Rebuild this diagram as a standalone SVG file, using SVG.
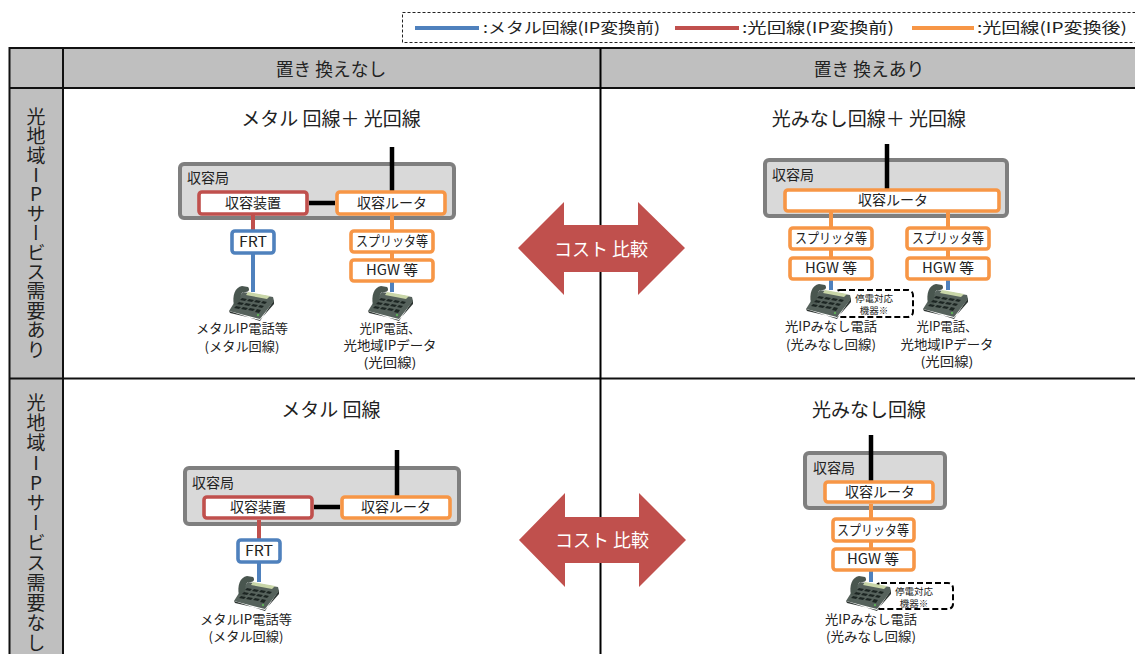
<svg xmlns="http://www.w3.org/2000/svg" width="1135" height="654" viewBox="0 0 1135 654">
<style>
text{font-family:"Noto Sans CJK JP","Noto Sans",sans-serif;fill:#222;text-anchor:middle}
.t{font-size:19px}
.h{font-size:17.800px}
.b{font-size:14px}
.l{font-size:12.800px}
.s{font-size:9.500px}
.st{font-size:14px;text-anchor:start}
.lg{font-size:15px;text-anchor:start}
.v{font-size:19px;writing-mode:vertical-rl;text-orientation:upright;text-anchor:start}
.ar{font-size:18px;fill:#fff}
.station{fill:#d9d9d9;stroke:#7f7f7f;stroke-width:4}
.or,.re,.bl{fill:#fff;stroke-width:3.600}
.or{stroke:#f79646}.re{stroke:#c0504d}.bl{stroke:#4f81bd}
.lk{stroke:#000;stroke-width:4.500;fill:none}
.lo{stroke:#f79646;stroke-width:4;fill:none}
.lr{stroke:#c0504d;stroke-width:4;fill:none}
.lb{stroke:#4f81bd;stroke-width:4;fill:none}
.arrow{fill:#c0504d}
.dash{fill:#fff;stroke:#000;stroke-width:2;stroke-dasharray:6 3}
.cell{fill:#bfbfbf}
.rule{stroke:#111;stroke-width:2;fill:none}
</style>
<defs>
<filter id="soft" x="-10%" y="-10%" width="120%" height="120%"><feGaussianBlur stdDeviation="0.35"/></filter>
<symbol id="phone" width="46" height="36" viewBox="0 0 46 36" overflow="visible">
<g filter="url(#soft)">
<polygon points="0,25 31,35 45,14 45,18 31,34 1,27" fill="#2e3532"/>
<polygon points="14,6 44,11 45,15 31,33 0,25 5,17" fill="#56625c"/>
<path d="M5,19 C3,10 6,1 13,0 L19,1 C21,3 20,6 17,6 L14,6 C11,8 11,14 11,20 Z" fill="#4a5650"/>
<polygon points="19,6 41,10 38,13 17,9" fill="#c9d6a8"/>
<g fill="#1f2624">
<polygon points="13,12 18,13 16,15 11,14"/><polygon points="20,13 25,14 23,16 18,15"/><polygon points="27,14 32,15 30,17 25,16"/><polygon points="34,15 38,16 36,18 32,17"/>
<polygon points="10,16 15,17 13,19 8,18"/><polygon points="17,17 22,18 20,20 15,19"/><polygon points="24,18 29,19 27,21 22,20"/><polygon points="31,19 35,20 33,22 29,21"/>
<polygon points="7,20 12,21 10,23 5,22"/><polygon points="14,21 19,22 17,24 12,23"/><polygon points="21,22 26,23 24,25 19,24"/><polygon points="28,23 32,24 30,27 26,26"/>
</g>
<circle cx="29" cy="29" r="1.200" fill="#5fae5a"/>
</g>
</symbol>
</defs>

<g id="legend">
<rect x="402.500" y="12.500" width="760" height="30" fill="none" stroke="#222" stroke-dasharray="3 2"/>
<line x1="415" y1="28" x2="479" y2="28" class="lb"/>
<text class="lg" x="483" y="33" textLength="177" lengthAdjust="spacingAndGlyphs">:メタル回線(IP変換前)</text>
<line x1="675" y1="28" x2="739" y2="28" class="lr"/>
<text class="lg" x="742" y="33" textLength="152" lengthAdjust="spacingAndGlyphs">:光回線(IP変換前)</text>
<line x1="912" y1="28" x2="974" y2="28" class="lo"/>
<text class="lg" x="977" y="33" textLength="150" lengthAdjust="spacingAndGlyphs">:光回線(IP変換後)</text>
</g>

<g id="table">
<rect class="cell" x="10" y="48" width="1125" height="40"/>
<rect class="cell" x="10" y="88" width="53" height="566"/>
<path class="rule" d="M9,48H1135M9,88H1135M9,378.500H1135M9.500,47V654M63,47V654"/>
<path d="M600.500,48V654" stroke="#000" stroke-width="2" fill="none"/>
<text class="h" x="331" y="76">置き 換えなし</text>
<text class="h" x="869" y="76">置き 換えあり</text>
<text class="v" x="36" y="107" style="letter-spacing:.4px">光地域IPサービス需要あり</text>
<text class="v" x="36" y="393" style="letter-spacing:1px">光地域IPサービス需要なし</text>
<text class="t" x="331" y="126">メタル 回線＋ 光回線</text>
<text class="t" x="869" y="126">光みなし回線＋ 光回線</text>
<text class="t" x="331" y="417">メタル 回線</text>
<text class="t" x="869" y="417">光みなし回線</text>
</g>

<g id="station-a"><rect class="station" x="180" y="164" width="274" height="54" rx="4"/><text class="st" x="187" y="183">収容局</text></g>
<g id="station-b"><rect class="station" x="765" y="160" width="242" height="56" rx="4"/><text class="st" x="772" y="180">収容局</text></g>
<g id="station-c"><rect class="station" x="185" y="468" width="274" height="56" rx="4"/><text class="st" x="192" y="488">収容局</text></g>
<g id="station-d"><rect class="station" x="805" y="453" width="140" height="55" rx="4"/><text class="st" x="813" y="473">収容局</text></g>

<g id="connectors">
<path class="lk" d="M392,147V191M309,203H335"/>
<path class="lr" d="M253,215V231"/><path class="lb" d="M253,253V292"/>
<path class="lo" d="M392,215V231M392,252V260"/><path class="lb" d="M392,282V292"/>
<path class="lk" d="M887,144V190"/>
<path class="lo" d="M831,212V228M831,249V258M948,212V228M948,249V258"/>
<path class="lb" d="M831,280V290M948,280V290"/>
<path class="lk" d="M397,450V497M314,507H340"/>
<path class="lr" d="M259,520V540"/><path class="lb" d="M259,562V582"/>
<path class="lk" d="M871,435V482"/>
<path class="lo" d="M871,504V519M871,541V549"/><path class="lb" d="M871,571V582"/>
</g>

<g id="device-a"><rect class="re" x="199" y="192" width="108" height="22" rx="3"/><text class="b" x="253" y="208">収容装置</text></g>
<g id="router-a"><rect class="or" x="337" y="192" width="108" height="22" rx="3"/><text class="b" x="392" y="208">収容ルータ</text></g>
<g id="frt-a"><rect class="bl" x="232" y="231" width="42" height="22" rx="3"/><text class="b" x="253" y="247" textLength="28" lengthAdjust="spacingAndGlyphs">FRT</text></g>
<g id="splitter-a"><rect class="or" x="351" y="231" width="82" height="21" rx="3"/><text class="b" x="392" y="246" textLength="72" lengthAdjust="spacingAndGlyphs">スプリッタ等</text></g>
<g id="hgw-a"><rect class="or" x="351" y="260" width="82" height="21" rx="3"/><text class="b" x="392" y="275" textLength="52" lengthAdjust="spacingAndGlyphs">HGW 等</text></g>
<g id="phone-a"><use href="#phone" x="229" y="286"/><text class="l" x="242" y="333" textLength="92" lengthAdjust="spacingAndGlyphs">メタルIP電話等</text><text class="l" x="242" y="351" textLength="75" lengthAdjust="spacingAndGlyphs">(メタル回線)</text></g>
<g id="phone-b"><use href="#phone" x="368" y="286"/><text class="l" x="390" y="333" textLength="61" lengthAdjust="spacingAndGlyphs">光IP電話、</text><text class="l" x="390" y="350" textLength="93" lengthAdjust="spacingAndGlyphs">光地域IPデータ</text><text class="l" x="390" y="367" textLength="53" lengthAdjust="spacingAndGlyphs">(光回線)</text></g>

<g id="router-b"><rect class="or" x="785" y="190" width="214" height="21" rx="3"/><text class="b" x="893" y="205">収容ルータ</text></g>
<g id="splitter-b"><rect class="or" x="790" y="228" width="82" height="21" rx="3"/><text class="b" x="831" y="243" textLength="72" lengthAdjust="spacingAndGlyphs">スプリッタ等</text></g>
<g id="hgw-b"><rect class="or" x="790" y="258" width="82" height="21" rx="3"/><text class="b" x="831" y="273" textLength="52" lengthAdjust="spacingAndGlyphs">HGW 等</text></g>
<g id="splitter-c"><rect class="or" x="907" y="228" width="82" height="21" rx="3"/><text class="b" x="948" y="243" textLength="72" lengthAdjust="spacingAndGlyphs">スプリッタ等</text></g>
<g id="hgw-c"><rect class="or" x="907" y="258" width="82" height="21" rx="3"/><text class="b" x="948" y="273" textLength="52" lengthAdjust="spacingAndGlyphs">HGW 等</text></g>
<g id="backup-b"><rect class="dash" x="835" y="290" width="78" height="27" rx="5"/><text class="s" x="874" y="302">停電対応</text><text class="s" x="874" y="314">機器※</text></g>
<g id="phone-c"><use href="#phone" x="806" y="284"/><text class="l" x="831" y="331" textLength="92" lengthAdjust="spacingAndGlyphs">光IPみなし電話</text><text class="l" x="831" y="349" textLength="90" lengthAdjust="spacingAndGlyphs">(光みなし回線)</text></g>
<g id="phone-d"><use href="#phone" x="923" y="284"/><text class="l" x="947" y="331" textLength="61" lengthAdjust="spacingAndGlyphs">光IP電話、</text><text class="l" x="947" y="349" textLength="93" lengthAdjust="spacingAndGlyphs">光地域IPデータ</text><text class="l" x="947" y="366" textLength="53" lengthAdjust="spacingAndGlyphs">(光回線)</text></g>

<g id="device-c"><rect class="re" x="204" y="497" width="108" height="21" rx="3"/><text class="b" x="258" y="512">収容装置</text></g>
<g id="router-c"><rect class="or" x="342" y="497" width="108" height="21" rx="3"/><text class="b" x="396" y="512">収容ルータ</text></g>
<g id="frt-c"><rect class="bl" x="238" y="540" width="42" height="22" rx="3"/><text class="b" x="259" y="556" textLength="28" lengthAdjust="spacingAndGlyphs">FRT</text></g>
<g id="phone-e"><use href="#phone" x="234" y="576"/><text class="l" x="246" y="624" textLength="92" lengthAdjust="spacingAndGlyphs">メタルIP電話等</text><text class="l" x="246" y="641" textLength="75" lengthAdjust="spacingAndGlyphs">(メタル回線)</text></g>

<g id="router-d"><rect class="or" x="825" y="482" width="108" height="20" rx="3"/><text class="b" x="880" y="497">収容ルータ</text></g>
<g id="splitter-d"><rect class="or" x="833" y="519" width="81" height="22" rx="3"/><text class="b" x="873" y="535" textLength="72" lengthAdjust="spacingAndGlyphs">スプリッタ等</text></g>
<g id="hgw-d"><rect class="or" x="833" y="549" width="81" height="21" rx="3"/><text class="b" x="873" y="564" textLength="52" lengthAdjust="spacingAndGlyphs">HGW 等</text></g>
<g id="backup-d"><rect class="dash" x="876" y="583" width="77" height="26" rx="5"/><text class="s" x="914" y="595">停電対応</text><text class="s" x="914" y="607">機器※</text></g>
<g id="phone-f"><use href="#phone" x="846" y="576"/><text class="l" x="871" y="624" textLength="92" lengthAdjust="spacingAndGlyphs">光IPみなし電話</text><text class="l" x="871" y="641" textLength="90" lengthAdjust="spacingAndGlyphs">(光みなし回線)</text></g>

<g id="compare-top"><polygon class="arrow" points="518,248 564,202 564,225 638,225 638,202 685,248 638,295 638,272 564,272 564,295"/><text class="ar" x="601" y="256">コスト 比較</text></g>
<g id="compare-bottom"><polygon class="arrow" points="519,540 565,493 565,517 639,517 639,493 686,540 639,587 639,563 565,563 565,587"/><text class="ar" x="602" y="547">コスト 比較</text></g>
</svg>
